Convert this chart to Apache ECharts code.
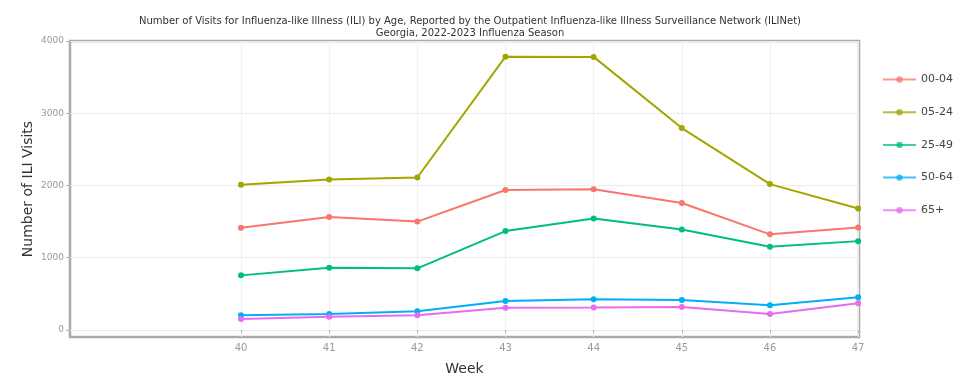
<!DOCTYPE html>
<html><head><meta charset="utf-8">
<script src="https://cdn.jsdelivr.net/npm/echarts@6/dist/echarts.min.js"></script>
<style>html,body{margin:0;padding:0;background:#fff}#c{width:968px;height:384px}</style>
</head><body><div id="c"></div>
<script>
const weeks = [40, 41, 42, 43, 44, 45, 46, 47];
const seriesNames = ['00-04', '05-24', '25-49', '50-64', '65+'];
const v0004 = [1416, 1564, 1500, 1938, 1947, 1758, 1324, 1418];
const v0524 = [2009, 2083, 2111, 3783, 3780, 2795, 2019, 1682];
const v2549 = [756, 862, 853, 1369, 1544, 1392, 1152, 1230];
const v5064 = [203, 221, 258, 401, 424, 415, 341, 452];
const v65 = [152, 184, 203, 309, 312, 318, 221, 369];
const yTicks = [0, 1000, 2000, 3000, 4000];
const colors = ['#F8766D', '#A3A500', '#00BF7D', '#00B0F6', '#E76BF3'];
const values = [v0004, v0524, v2549, v5064, v65];
const font = 'DejaVu Sans';
const chart = echarts.init(document.getElementById('c'));
chart.setOption({
  animation: false,
  title: {
    text: 'Number of Visits for Influenza-like Illness (ILI) by Age, Reported by the Outpatient Influenza-like Illness Surveillance Network (ILINet)\nGeorgia, 2022-2023 Influenza Season',
    left: 465, textAlign: 'center', top: 10,
    textStyle: {fontFamily: font, fontSize: 10, fontWeight: 'normal', color: '#333', lineHeight: 12}
  },
  legend: {
    orient: 'vertical', left: 877, top: 69,
    itemWidth: 33, itemHeight: 8, itemGap: 21.7,
    textStyle: {fontFamily: font, fontSize: 11, color: '#444'},
    data: seriesNames.map(n => ({name: n, itemStyle: {opacity: 0.75}, lineStyle: {opacity: 0.75}}))
  },
  grid: {left: 70, right: 109, top: 41, bottom: 47, show: true, borderColor: '#aaaaaa', borderWidth: 2.5, containLabel: false},
  xAxis: {
    type: 'value', min: 38.06, max: 47.01,
    name: 'Week', nameLocation: 'middle', nameGap: 25,
    nameTextStyle: {fontFamily: font, fontSize: 14, color: '#333'},
    axisLine: {show: false},
    axisTick: {show: true, customValues: weeks, length: 3, lineStyle: {color: '#b3b3b3'}},
    axisLabel: {customValues: weeks, fontFamily: font, fontSize: 10, color: '#999', margin: 6},
    splitLine: {show: true, lineStyle: {color: '#f0f0f0', width: 1}}
  },
  yAxis: {
    type: 'value', min: -97, max: 4000,
    name: 'Number of ILI Visits', nameLocation: 'middle', nameGap: 35, nameRotate: 90, nameMoveOverlap: false,
    nameTextStyle: {fontFamily: font, fontSize: 14, color: '#333'},
    axisLine: {show: false},
    axisTick: {show: true, customValues: yTicks, length: 4, lineStyle: {color: '#b3b3b3'}},
    axisLabel: {customValues: yTicks, formatter: v => String(v), fontFamily: font, fontSize: 9, color: '#999', margin: 6},
    splitLine: {show: true, lineStyle: {color: '#ececec', width: 1}}
  },
  series: seriesNames.map((n, i) => ({
    name: n, type: 'line',
    data: weeks.map((w, j) => [w, values[i][j]]),
    symbol: 'circle', symbolSize: 6,
    itemStyle: {color: colors[i]},
    lineStyle: {color: colors[i], width: 2}
  }))
});
</script></body></html>
